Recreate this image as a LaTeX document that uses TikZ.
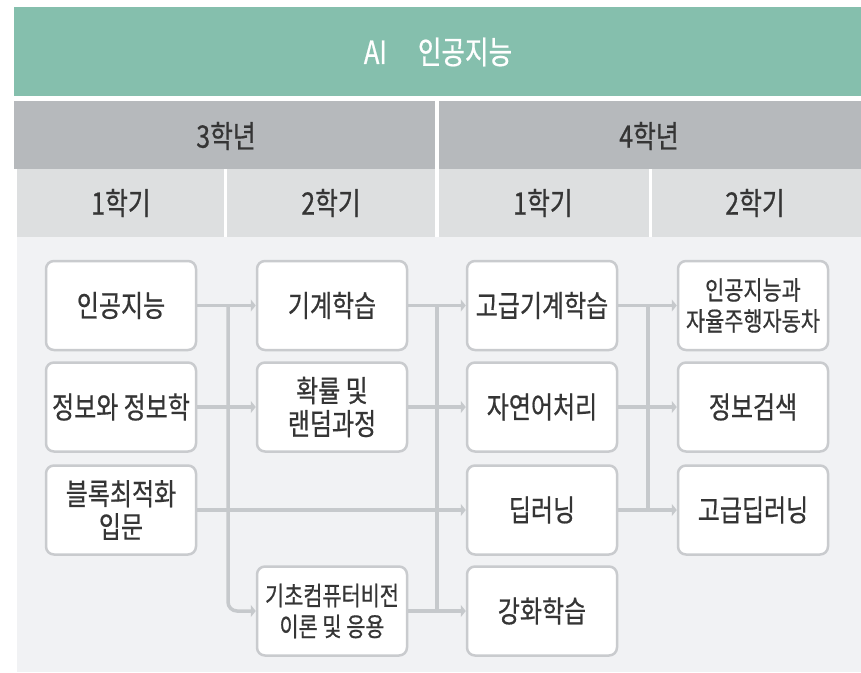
\documentclass[tikz,border=0pt]{standalone}
\usepackage{fontspec}
\usetikzlibrary{arrows.meta}
\newfontfamily\kr[FakeStretch=0.8,FakeBold=0.6]{Noto Sans CJK KR}
\definecolor{titlegreen}{HTML}{85BFAD}
\definecolor{yeargray}{HTML}{B6B9BC}
\definecolor{semgray}{HTML}{DDDFE0}
\definecolor{bgpale}{HTML}{F1F2F4}
\definecolor{boxline}{HTML}{C9CBCE}
\definecolor{connline}{HTML}{C6C9CC}
\definecolor{txt}{HTML}{353535}
\tikzset{
  course/.style={draw=boxline, line width=2.5pt, fill=white, rounded corners=8pt,
    minimum width=150pt, minimum height=89pt, inner sep=0pt, align=center,
    text=txt, font=\kr\fontsize{30}{33}\selectfont},
  coursesm/.style={course, font=\kr\fontsize{26}{31}\selectfont},
  hdr/.style={text=txt, font=\kr\fontsize{31}{34}\selectfont, inner sep=0pt},
  link/.style={draw=connline, line width=3.5pt},
  arr/.style={link, -{Triangle[width=12pt,length=5pt]}},
}
\begin{document}
\begin{tikzpicture}[x=1pt,y=-1pt]
\useasboundingbox (0,0) rectangle (861,672);
\fill[white] (0,0) rectangle (861,672);
% title band
\fill[titlegreen] (14,7) rectangle (861,96);
\node[text=white, font=\kr\fontsize{32}{36}\selectfont, inner sep=0pt] (title) at (438,52) {AI\hspace{31pt}인공지능};
% year row
\fill[yeargray] (14,101) rectangle (861,169);
\fill[semgray] (17,169) rectangle (861,237);
\fill[bgpale] (17,237) rectangle (861,672);
\draw[white, line width=4pt] (437,101) -- (437,237);
\draw[white, line width=3pt] (225,169) -- (225,237);
\draw[white, line width=3pt] (650,169) -- (650,237);
\node[hdr] (y3) at (226,136) {3학년};
\node[hdr] (y4) at (649,136) {4학년};
\node[hdr] (s31) at (121,203) {1학기};
\node[hdr] (s32) at (331,203) {2학기};
\node[hdr] (s41) at (543,203) {1학기};
\node[hdr] (s42) at (755,203) {2학기};
% courses
\node[course] (ai) at (121,305.5) {인공지능};
\node[course] (info) at (121,407) {정보와 정보학};
\node[course] (block) at (121,510) {블록최적화\\입문};
\node[course] (ml) at (332,305.5) {기계학습};
\node[course] (prob) at (332,407) {확률 및\\랜덤과정};
\node[coursesm] (cv) at (332,611) {기초컴퓨터비전\\이론 및 응용};
\node[course] (aml) at (542,305.5) {고급기계학습};
\node[course] (nlp) at (542,407) {자연어처리};
\node[course] (dl) at (542,510) {딥러닝};
\node[course] (rl) at (542,611) {강화학습};
\node[coursesm] (auto) at (753,305.5) {인공지능과\\자율주행자동차};
\node[course] (ir) at (753,407) {정보검색};
\node[course] (adl) at (753,510) {고급딥러닝};
% bus positions
\coordinate (b1) at (228,0);
\coordinate (b2) at (437,0);
\coordinate (b3) at (648,0);
% connectors
\draw[arr] (ai.east) -- (ml.west);
\draw[arr, rounded corners=9pt] (ai.east -| b1) |- (cv.west);
\draw[arr] (info.east) -- (prob.west);
\draw[arr] (block.east) -- (dl.west);
\draw[arr] (ml.east) -- (aml.west);
\draw[arr] (prob.east) -- (nlp.west);
\draw[arr] (cv.east) -- (rl.west);
\draw[link] (ml.east -| b2) -- (cv.east -| b2);
\draw[arr] (aml.east) -- (auto.west);
\draw[arr] (nlp.east) -- (ir.west);
\draw[arr] (dl.east) -- (adl.west);
\draw[link] (aml.east -| b3) -- (dl.east -| b3);
\end{tikzpicture}
\end{document}
